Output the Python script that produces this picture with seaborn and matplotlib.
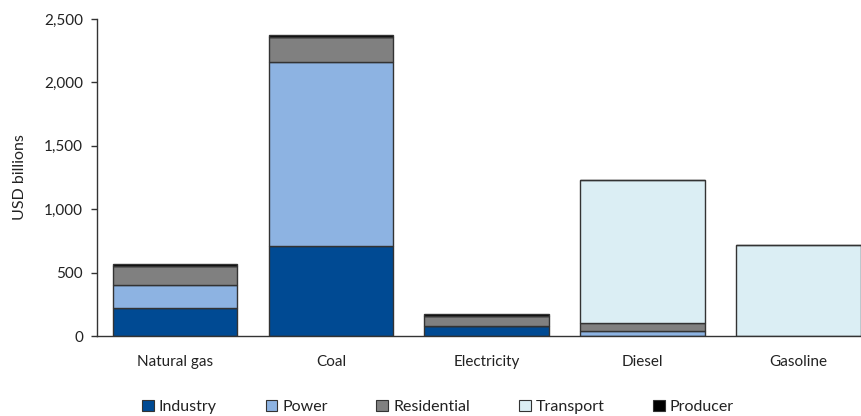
import matplotlib
matplotlib.use("Agg")
import matplotlib.pyplot as plt
import seaborn as sns
import numpy as np
import pandas as pd
from matplotlib.patches import Patch
from matplotlib.ticker import FuncFormatter

categories = ["Natural gas", "Coal", "Electricity", "Diesel", "Gasoline"]
industry = [220, 710, 80, 0, 0]
power = [185, 1450, 0, 42, 0]
residential = [150, 200, 80, 60, 0]
transport = [0, 0, 0, 1128, 720]
producer = [12, 15, 12, 0, 0]

series_names = ["Industry", "Power", "Residential", "Transport", "Producer"]
series_values = [industry, power, residential, transport, producer]
colors = ["#004a93", "#8db3e2", "#808080", "#dbeef4", "#000000"]

sns.set_theme(style="white")
plt.rcParams["font.family"] = ["Lato", "DejaVu Sans"]

fig = plt.figure(figsize=(8.61, 4.16), dpi=100)
ax = fig.add_axes([97/861, 80/416, (861-97)/861, (336-19)/416])

bottom = np.zeros(len(categories))
for name, vals, col in zip(series_names, series_values, colors):
    df = pd.DataFrame({"cat": categories, "val": vals})
    sns.barplot(data=df, x="cat", y="val", order=categories, color=col,
                bottom=bottom, width=0.8, edgecolor="#333333", linewidth=1.0,
                saturation=1, ax=ax, errorbar=None)
    bottom = bottom + np.array(vals)

ax.set_xlim(-0.5, 4.4)
ax.set_ylim(0, 2500)
ax.set_yticks([0, 500, 1000, 1500, 2000, 2500])
ax.yaxis.set_major_formatter(FuncFormatter(lambda v, p: f"{int(v):,}"))
ax.set_xlabel("")
ax.set_ylabel("USD billions", fontsize=11.5, color="#222222", labelpad=12)
ax.tick_params(axis="y", which="both", left=True, length=4, width=1, color="#333333",
               labelsize=11, labelcolor="#222222", pad=6)
ax.tick_params(axis="x", bottom=False, labelsize=11, labelcolor="#222222", pad=8)
for s in ["top", "right"]:
    ax.spines[s].set_visible(False)
for s in ["left", "bottom"]:
    ax.spines[s].set_color("#333333")
    ax.spines[s].set_linewidth(1)

handles = [Patch(facecolor=c, edgecolor="#333333", linewidth=0.8, label=n)
           for n, c in zip(series_names, colors)]
fig.legend(handles=handles, loc="center", bbox_to_anchor=(438/861, 1 - 407/416),
           ncol=5, frameon=False, fontsize=11.5, handlelength=0.75, handleheight=0.75,
           handletextpad=0.3, columnspacing=3.05, labelcolor="#222222")

fig.savefig("out.png", dpi=100)
